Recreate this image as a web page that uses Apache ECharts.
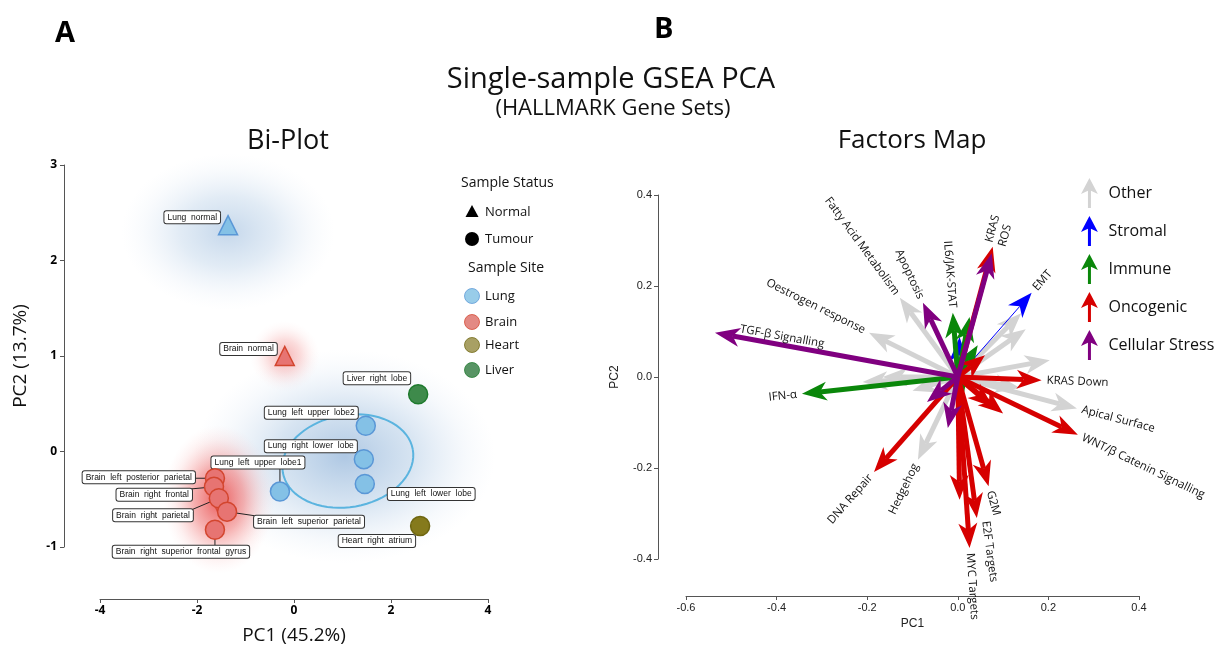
<!DOCTYPE html>
<html>
<head>
<meta charset="utf-8">
<script src="https://cdn.jsdelivr.net/npm/echarts@6/dist/echarts.min.js"></script>
<style>
  html, body { margin: 0; padding: 0; background: #fff; }
  #chart { width: 1225px; height: 650px; }
</style>
</head>
<body>
<div id="chart"></div>
<script>
// ---- A: Bi-Plot samples ----
const sampleNames = ['Lung normal', 'Brain normal', 'Liver right lobe', 'Lung left upper lobe2', 'Lung right lower lobe',
  'Lung left lower lobe', 'Lung left upper lobe1', 'Heart right atrium', 'Brain left posterior parietal',
  'Brain right frontal', 'Brain right parietal', 'Brain left superior parietal', 'Brain right superior frontal gyrus'];
const samplePC1 = [-1.36, -0.19, 2.56, 1.48, 1.44, 1.46, -0.29, 2.60, -1.63, -1.65, -1.55, -1.38, -1.63];
const samplePC2 = [2.37, 1.00, 0.60, 0.27, -0.08, -0.34, -0.42, -0.78, -0.28, -0.37, -0.49, -0.63, -0.82];
const sampleSite = ['Lung', 'Brain', 'Liver', 'Lung', 'Lung', 'Lung', 'Lung', 'Heart', 'Brain', 'Brain', 'Brain', 'Brain', 'Brain'];
const sampleStatus = ['Normal', 'Normal', 'Tumour', 'Tumour', 'Tumour', 'Tumour', 'Tumour', 'Tumour', 'Tumour',
  'Tumour', 'Tumour', 'Tumour', 'Tumour'];

// density halos (centre and radius in PC units)
const haloSite = ['Lung', 'Lung', 'Brain', 'Brain'];
const haloPC1 = [1.05, -1.36, -1.55, -0.19];
const haloPC2 = [-0.05, 2.30, -0.50, 1.00];
const haloRadPC1 = [3.1, 2.2, 1.15, 0.72];
const haloRadPC2 = [1.12, 0.82, 0.78, 0.37];

// confidence ellipses: centre + two semi-axis vectors
const ellipseSite = ['Lung', 'Brain'];
const ellipseCentre = [[1.11, -0.10], [-1.59, -0.47]];
const ellipseAxisA = [[1.34, 0.12], [0.124, -0.209]];
const ellipseAxisB = [[0.16, -0.475], [0.099, 0.015]];

const siteList = ['Lung', 'Brain', 'Heart', 'Liver'];

// ---- B: Factors map loadings ----
const geneSets = ['Oestrogen response', 'Fatty Acid Metabolism', 'Apical Surface', 'Hedgehog', '', '', '', '', '', '', '',
  'EMT', '',
  'IFN-α', 'IL6/JAK-STAT', '', '', '',
  'KRAS', 'KRAS Down', 'WNT/β Catenin Signalling', 'G2M', 'E2F Targets', 'MYC Targets', 'DNA Repair', '', '', '', '',
  'TGF-β Signalling', 'Apoptosis', 'ROS', '', ''];
const loadPC1 = [-0.196, -0.128, 0.263, -0.088, 0.203, 0.14, 0.15, -0.21, -0.166, -0.10, 0.137,
  0.163, 0.004,
  -0.344, -0.011, 0.026, 0.044, 0.010,
  0.077, 0.185, 0.265, 0.068, 0.042, 0.026, -0.185, 0.004, 0.060, 0.100, 0.077,
  -0.536, -0.077, 0.075, -0.068, -0.022];
const loadPC2 = [0.097, 0.174, -0.069, -0.182, 0.037, 0.14, 0.105, -0.011, 0.0, -0.03, -0.024,
  0.185, 0.088,
  -0.037, 0.141, 0.132, 0.070, -0.055,
  0.286, -0.007, -0.127, -0.240, -0.310, -0.376, -0.209, -0.270, 0.048, -0.080, -0.066,
  0.097, 0.163, 0.272, -0.055, -0.112];
const geneGroup = ['Other', 'Other', 'Other', 'Other', 'Other', 'Other', 'Other', 'Other', 'Other', 'Other', 'Other',
  'Stromal', 'Stromal',
  'Immune', 'Immune', 'Immune', 'Immune', 'Immune',
  'Oncogenic', 'Oncogenic', 'Oncogenic', 'Oncogenic', 'Oncogenic', 'Oncogenic', 'Oncogenic', 'Oncogenic', 'Oncogenic', 'Oncogenic', 'Oncogenic',
  'Cellular Stress', 'Cellular Stress', 'Cellular Stress', 'Cellular Stress', 'Cellular Stress'];
const groupList = ['Other', 'Stromal', 'Immune', 'Oncogenic', 'Cellular Stress'];

// ---- styles ----
const siteFill = { Lung: '#84c1e6', Brain: '#e77472', Heart: '#857a1c', Liver: '#3e8a4b' };
const siteStroke = { Lung: '#5a97d6', Brain: '#d3452e', Heart: '#6e6610', Liver: '#1e7a2d' };
const siteLegend = { Lung: '#92c9e8', Brain: '#e2837c', Heart: '#a39b5c', Liver: '#4f8e5c' };
const groupColor = { Other: '#d3d3d3', Stromal: '#0000ff', Immune: '#0a870a', Oncogenic: '#d60000', 'Cellular Stress': '#800080' };
const TITLE_FONT = '"Open Sans", "Noto Sans", sans-serif';
const SMALL_FONT = '"Liberation Sans", Arial, sans-serif';

// label offsets (px) from sample point
const sampleLabelLayout = {
  'Lung normal': { dx: -8, dy: -8, align: 'right' },
  'Brain normal': { dx: -8, dy: -7, align: 'right' },
  'Liver right lobe': { dx: -8, dy: -16, align: 'right' },
  'Lung left upper lobe2': { dx: -8, dy: -13, align: 'right' },
  'Lung right lower lobe': { dx: -7, dy: -13, align: 'right' },
  'Lung left lower lobe': { dx: 23, dy: 10, align: 'left' },
  'Lung left upper lobe1': { dx: -22, dy: -29, align: 'center', leader: true },
  'Heart right atrium': { dx: -5, dy: 15, align: 'right' },
  'Brain left posterior parietal': { dx: -20, dy: -1, align: 'right', leader: true },
  'Brain right frontal': { dx: -22, dy: 8, align: 'right', leader: true },
  'Brain right parietal': { dx: -26, dy: 17, align: 'right', leader: true },
  'Brain left superior parietal': { dx: 27, dy: 10, align: 'left', leader: true },
  'Brain right superior frontal gyrus': { dx: -34, dy: 22, align: 'center', leader: true }
};

// label nudges (px) for factor arrows
const arrowLabelTweak = {
  'TGF-β Signalling': { dx: 30, dy: -3, align: 'left' },
  'KRAS': { dx: -5, dy: 0 },
  'ROS': { dx: 9, dy: -2 },
  'E2F Targets': { dx: 8, dy: -2 }
};

const chart = echarts.init(document.getElementById('chart'));

function haloItem(params, api) {
  const i = api.value(0);
  const c = api.coord([haloPC1[i], haloPC2[i]]);
  const ex = api.coord([haloPC1[i] + haloRadPC1[i], haloPC2[i]]);
  const ey = api.coord([haloPC1[i], haloPC2[i] + haloRadPC2[i]]);
  const rx = Math.abs(ex[0] - c[0]);
  const ry = Math.abs(c[1] - ey[1]);
  const stops = haloSite[i] === 'Lung'
    ? [{ offset: 0, color: 'rgba(95,145,200,0.50)' }, { offset: 0.45, color: 'rgba(120,165,210,0.30)' },
      { offset: 0.8, color: 'rgba(160,190,225,0.09)' }, { offset: 1, color: 'rgba(190,210,235,0)' }]
    : [{ offset: 0, color: 'rgba(228,50,50,0.80)' }, { offset: 0.45, color: 'rgba(235,80,80,0.45)' },
      { offset: 0.8, color: 'rgba(245,140,140,0.12)' }, { offset: 1, color: 'rgba(255,190,190,0)' }];
  const soft = [1, 0.72, 1, 0.45][i];
  return {
    type: 'circle',
    x: c[0], y: c[1],
    scaleX: rx / ry, scaleY: 1,
    shape: { cx: 0, cy: 0, r: ry },
    style: { fill: new echarts.graphic.RadialGradient(0.5, 0.5, 0.5, stops), opacity: soft }
  };
}

function ellipseItem(params, api) {
  const i = api.value(0);
  const c = ellipseCentre[i], a = ellipseAxisA[i], b = ellipseAxisB[i];
  const pts = [];
  for (let k = 0; k <= 72; k++) {
    const t = k / 72 * Math.PI * 2;
    pts.push(api.coord([c[0] + a[0] * Math.cos(t) + b[0] * Math.sin(t), c[1] + a[1] * Math.cos(t) + b[1] * Math.sin(t)]));
  }
  return {
    type: 'polyline',
    shape: { points: pts },
    style: { stroke: ellipseSite[i] === 'Lung' ? '#5bb4df' : '#d9473a', lineWidth: ellipseSite[i] === 'Lung' ? 2 : 1.5, fill: 'none' }
  };
}

function sampleLabelItem(params, api) {
  const i = api.value(2);
  const p = api.coord([api.value(0), api.value(1)]);
  const lay = sampleLabelLayout[sampleNames[i]];
  const ax = p[0] + lay.dx, ay = p[1] + lay.dy;
  const children = [];
  if (lay.leader) {
    const ex = lay.align === 'center' ? p[0] : ax;
    const ey = Math.max(ay - 6, Math.min(ay + 6, p[1]));
    children.push({ type: 'line', z2: 0, shape: { x1: p[0], y1: p[1], x2: ex, y2: ey }, style: { stroke: '#222', lineWidth: 1 } });
  }
  children.push({
    type: 'text', x: ax, y: ay, z2: 10,
    style: {
      text: sampleNames[i].split(' ').join('  '),
      font: '8.5px ' + SMALL_FONT,
      fill: '#111', align: lay.align, verticalAlign: 'middle',
      backgroundColor: '#fff', borderColor: '#333', borderWidth: 1, borderRadius: 2, padding: [2, 3, 1, 3]
    }
  });
  return { type: 'group', children };
}

function arrowRenderer(group, order) {
  return function (params, api) {
    const idx = api.value(2);
    const color = groupColor[group];
    const o = api.coord([0, 0]);
    const t = api.coord([api.value(0), api.value(1)]);
    const dx = t[0] - o[0], dy = t[1] - o[1];
    const len = Math.sqrt(dx * dx + dy * dy);
    const ux = dx / len, uy = dy / len;
    const nx = -uy, ny = ux;
    const hl = 25, hw = 9.5;
    const bx = t[0] - ux * hl, by = t[1] - uy * hl;
    const mx = t[0] - ux * hl * 0.72, my = t[1] - uy * hl * 0.72;
    const children = [
      { type: 'line', z2: order, shape: { x1: o[0], y1: o[1], x2: mx, y2: my },
        style: { stroke: color, lineWidth: group === 'Stromal' ? 1 : 5 } },
      { type: 'polygon', z2: order, shape: { points: [[t[0], t[1]], [bx + nx * hw, by + ny * hw], [mx, my], [bx - nx * hw, by - ny * hw]] },
        style: { fill: color } }
    ];
    const name = geneSets[idx];
    if (name) {
      const ang = Math.atan2(-dy, dx);
      const flip = Math.cos(ang) < 0;
      const tw = arrowLabelTweak[name] || {};
      const gap = 5;
      children.push({
        type: 'text', z2: 100,
        x: t[0] + ux * gap + (tw.dx || 0),
        y: t[1] + uy * gap + (tw.dy || 0),
        rotation: flip ? ang + Math.PI : ang,
        style: {
          text: name, font: '11.5px ' + TITLE_FONT, fill: '#111',
          align: tw.align || (flip ? 'right' : 'left'), verticalAlign: 'middle'
        }
      });
    }
    return { type: 'group', children };
  };
}

const axisCommon = {
  axisLine: { show: true, onZero: false, lineStyle: { color: '#555', width: 1 } },
  axisTick: { show: true, length: 4, lineStyle: { color: '#555' } },
  splitLine: { show: false },
  nameLocation: 'middle'
};

const series = [];

series.push({
  type: 'custom', name: 'halo', xAxisIndex: 0, yAxisIndex: 0, z: 1, silent: true, clip: false,
  renderItem: haloItem, data: haloSite.map((s, i) => [i])
});
series.push({
  type: 'custom', name: 'ellipse', xAxisIndex: 0, yAxisIndex: 0, z: 2, silent: true, clip: false,
  renderItem: ellipseItem, data: ellipseSite.map((s, i) => [i])
});
siteList.forEach(site => {
  const idx = sampleNames.map((n, i) => i).filter(i => sampleSite[i] === site);
  series.push({
    type: 'scatter', name: site, xAxisIndex: 0, yAxisIndex: 0, z: 4,
    data: idx.map(i => ({ value: [samplePC1[i], samplePC2[i]], symbol: sampleStatus[i] === 'Normal' ? 'triangle' : 'circle' })),
    symbolSize: 19,
    itemStyle: { color: siteFill[site], borderColor: siteStroke[site], borderWidth: 1.5, opacity: 1 }
  });
});
series.push({
  type: 'custom', name: 'sampleLabels', xAxisIndex: 0, yAxisIndex: 0, z: 3, silent: true, clip: false,
  renderItem: sampleLabelItem, data: sampleNames.map((n, i) => [samplePC1[i], samplePC2[i], i])
});

groupList.forEach((g, gi) => {
  const idx = geneSets.map((n, i) => i).filter(i => geneGroup[i] === g);
  series.push({
    type: 'custom', name: g, xAxisIndex: 1, yAxisIndex: 1, z: 2, clip: false, silent: true,
    itemStyle: { color: groupColor[g] },
    renderItem: arrowRenderer(g, gi + 1),
    data: idx.map(i => [loadPC1[i], loadPC2[i], i])
  });
});

// left legend and titles as graphics
const graphics = [
  { type: 'text', x: 55, y: 34, style: { text: 'A', font: 'bold 29px ' + TITLE_FONT, fill: '#000', align: 'left', verticalAlign: 'middle' } },
  { type: 'text', x: 654, y: 30, style: { text: 'B', font: 'bold 29px ' + TITLE_FONT, fill: '#000', align: 'left', verticalAlign: 'middle' } },
  { type: 'text', x: 611, y: 80, style: { text: 'Single-sample GSEA PCA', font: '29px ' + TITLE_FONT, fill: '#111', align: 'center', verticalAlign: 'middle' } },
  { type: 'text', x: 613, y: 109, style: { text: '(HALLMARK Gene Sets)', font: '22px ' + TITLE_FONT, fill: '#111', align: 'center', verticalAlign: 'middle' } },
  { type: 'text', x: 288, y: 141, style: { text: 'Bi-Plot', font: '27px ' + TITLE_FONT, fill: '#111', align: 'center', verticalAlign: 'middle' } },
  { type: 'text', x: 912, y: 141, style: { text: 'Factors Map', font: '26px ' + TITLE_FONT, fill: '#111', align: 'center', verticalAlign: 'middle' } },
  { type: 'text', x: 461, y: 183, style: { text: 'Sample Status', font: '14px ' + TITLE_FONT, fill: '#111', align: 'left', verticalAlign: 'middle' } },
  { type: 'polygon', shape: { points: [[472, 205], [478.5, 217], [465.5, 217]] }, style: { fill: '#000' } },
  { type: 'text', x: 485, y: 212, style: { text: 'Normal', font: '13px ' + TITLE_FONT, fill: '#111', align: 'left', verticalAlign: 'middle' } },
  { type: 'circle', shape: { cx: 472, cy: 239, r: 7 }, style: { fill: '#000' } },
  { type: 'text', x: 485, y: 239, style: { text: 'Tumour', font: '13px ' + TITLE_FONT, fill: '#111', align: 'left', verticalAlign: 'middle' } },
  { type: 'text', x: 468, y: 268, style: { text: 'Sample Site', font: '14px ' + TITLE_FONT, fill: '#111', align: 'left', verticalAlign: 'middle' } }
];
const siteLegendY = [296, 322, 345, 370];
siteList.forEach((s, i) => {
  graphics.push({ type: 'circle', shape: { cx: 472, cy: siteLegendY[i], r: 7.5 }, style: { fill: siteLegend[s], stroke: siteStroke[s], lineWidth: 0.8, opacity: 0.95 } });
  graphics.push({ type: 'text', x: 485, y: siteLegendY[i], style: { text: s, font: '13px ' + TITLE_FONT, fill: '#111', align: 'left', verticalAlign: 'middle' } });
});

const option = {
  animation: false,
  backgroundColor: '#fff',
  textStyle: { fontFamily: TITLE_FONT },
  grid: [
    { left: 100, right: 737, top: 165, bottom: 102 },
    { left: 686, right: 86, top: 195, bottom: 91 }
  ],
  xAxis: [
    Object.assign({}, axisCommon, {
      gridIndex: 0, type: 'value', min: -4, max: 4, interval: 2, offset: 52,
      name: 'PC1 (45.2%)', nameGap: 27, nameTextStyle: { fontSize: 19, color: '#111', fontFamily: TITLE_FONT },
      axisLabel: { fontSize: 12, fontWeight: 'bold', color: '#000', fontFamily: TITLE_FONT, margin: 6 }
    }),
    Object.assign({}, axisCommon, {
      gridIndex: 1, type: 'value', min: -0.6, max: 0.4, interval: 0.2, offset: 37,
      name: 'PC1', nameGap: 22, nameTextStyle: { fontSize: 12, color: '#222', fontFamily: SMALL_FONT },
      axisLabel: { fontSize: 11, color: '#222', fontFamily: SMALL_FONT, margin: 6, formatter: v => v.toFixed(1) }
    })
  ],
  yAxis: [
    Object.assign({}, axisCommon, {
      gridIndex: 0, type: 'value', min: -1, max: 3, interval: 1, offset: 36,
      name: 'PC2 (13.7%)', nameGap: 34, nameTextStyle: { fontSize: 19, color: '#111', fontFamily: TITLE_FONT },
      axisLabel: { fontSize: 12, fontWeight: 'bold', color: '#000', fontFamily: TITLE_FONT, margin: 7 }
    }),
    Object.assign({}, axisCommon, {
      gridIndex: 1, type: 'value', min: -0.4, max: 0.4, interval: 0.2, offset: 28,
      name: 'PC2', nameGap: 37, nameTextStyle: { fontSize: 12, color: '#222', fontFamily: SMALL_FONT },
      axisLabel: { fontSize: 11, color: '#222', fontFamily: SMALL_FONT, margin: 6, formatter: v => v.toFixed(1) }
    })
  ],
  legend: {
    data: groupList,
    orient: 'vertical',
    left: 1076, top: 173,
    itemWidth: 28, itemHeight: 30, itemGap: 8,
    icon: 'path://M9,0 L18,17 L10.6,13.5 L10.6,32 L7.4,32 L7.4,13.5 L0,17 Z',
    selectedMode: false,
    textStyle: { fontSize: 16, color: '#111', fontFamily: TITLE_FONT }
  },
  graphic: graphics,
  series: series
};

chart.setOption(option);
window.addEventListener('resize', () => chart.resize());
</script>
</body>
</html>
